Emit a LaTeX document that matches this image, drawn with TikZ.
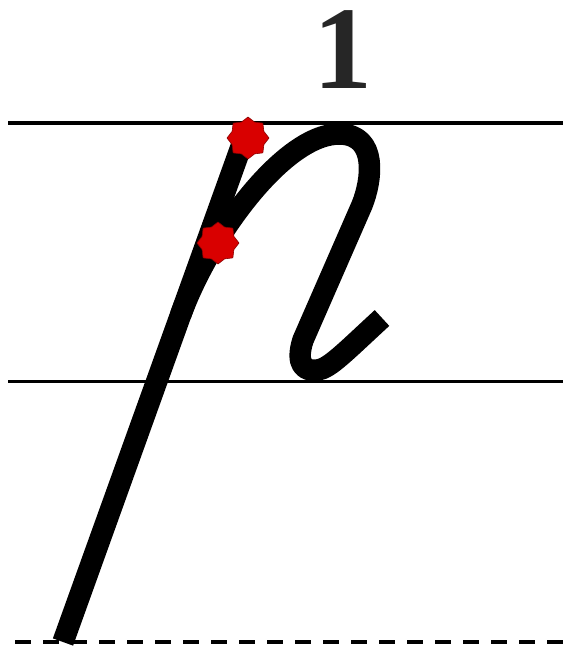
\documentclass[tikz,border=0pt]{standalone}
\usepackage{fontspec}
\setmainfont{Liberation Serif}
\usetikzlibrary{shapes.geometric}
\begin{document}
\begin{tikzpicture}[x=1pt,y=-1pt,
  guide/.style={line width=3.5pt,black},
  stroke/.style={line width=21.5pt,black},
  redstar/.style={star,star points=8,star point ratio=1.22,fill=red!85!black,draw=red!55!black,line width=0.6pt,minimum size=42pt,inner sep=0pt}]
\useasboundingbox (0,0) rectangle (563,648);
\draw[guide] (8,123) -- (563,123);
\draw[guide,line width=3pt] (8,381) -- (563,381);
\draw[line width=3.8pt,dash pattern=on 16pt off 12pt] (15,642) -- (563,642);
\draw[stroke,line cap=butt] (63,642) -- (246,133);
\draw[stroke,line cap=butt,line join=round] (180.6,315) .. controls (210,235) and (285,133) .. (340,134) .. controls (378,135) and (372,180) .. (362,205) -- (303,340) .. controls (295,365) and (305,372) .. (318,370) .. controls (330,368) and (345,352) .. (382,318);
\node[redstar] (s1) at (248,138) {};
\node[redstar] (s2) at (218,243) {};
\node[text=black!85,anchor=base,inner sep=0pt] (d) at (343,88) {\fontsize{118}{118}\selectfont\bfseries 1};
\end{tikzpicture}
\end{document}
